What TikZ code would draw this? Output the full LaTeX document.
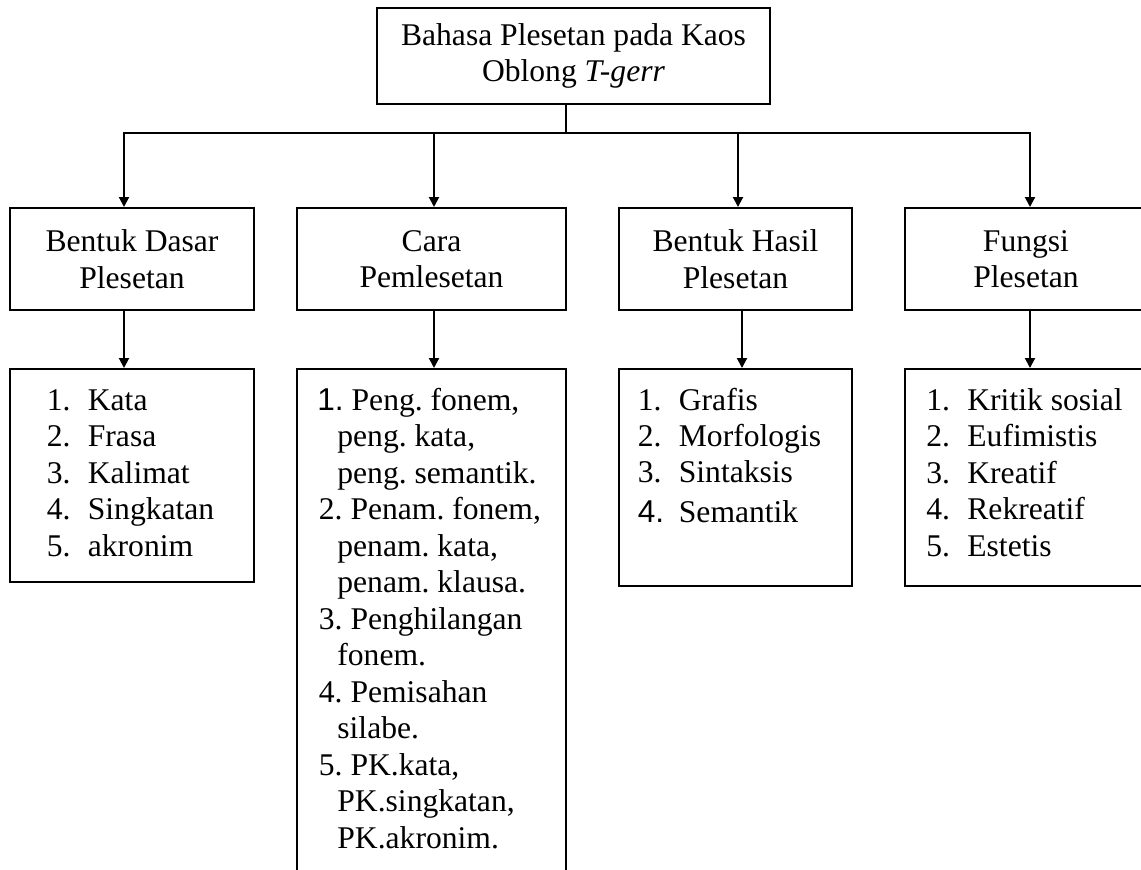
\documentclass[tikz,border=0pt]{standalone}
\usepackage{fontspec}
\setmainfont{Liberation Serif}
\newfontfamily\numsans{Liberation Sans}
\usepackage{tikz}
\usetikzlibrary{positioning, calc, arrows.meta}
\frenchspacing

\begin{document}
\begin{tikzpicture}[x=0.5pt, y=-0.5pt,
    font=\fontsize{15.8pt}{18.25pt}\selectfont,
    box/.style={draw, line width=1pt, inner sep=0pt, align=center},
    item/.style={anchor=base west, inner sep=0pt},
    link/.style={line width=1pt},
    arr/.style={line width=1pt, -{Triangle[length=5pt, width=5pt]}}]
  \useasboundingbox (0,0) rectangle (1141,869);
  \clip (0,0) rectangle (1141,869);

  \node[box, minimum width=196.5pt, minimum height=48pt] (top) at (573.5,56)
    {Bahasa Plesetan pada Kaos\\Oblong \textit{T-gerr}};

  \node[box, minimum width=122pt, minimum height=51pt] (b1) at (132,259) {Bentuk Dasar\\Plesetan};
  \node[box, minimum width=134.5pt, minimum height=51pt] (b2) at (431.5,259) {Cara\\Pemlesetan};
  \node[box, minimum width=116.5pt, minimum height=51pt] (b3) at (735.5,259) {Bentuk Hasil\\Plesetan};
  \node[box, minimum width=121pt, minimum height=51pt] (b4) at (1026,259) {Fungsi\\Plesetan};

  \node[box, minimum width=122pt, minimum height=106.5pt] (l1) at (132,475.5) {};
  \node[box, minimum width=134.5pt, minimum height=255.5pt] (l2) at (431.5,624.5) {};
  \node[box, minimum width=116.5pt, minimum height=108.5pt] (l3) at (735.5,477.5) {};
  \node[box, minimum width=121pt, minimum height=108.5pt] (l4) at (1026,477.5) {};

  \coordinate (hub) at (566,133);
  \draw[link] (top.south -| hub) -- (hub);
  \draw[arr] (hub) -| ([xshift=-4pt]b1.north);
  \draw[arr] (hub) -| ([xshift=1.25pt]b2.north);
  \draw[arr] (hub) -| ([xshift=1.25pt]b3.north);
  \draw[arr] (hub) -| ([xshift=2pt]b4.north);

  \draw[arr] ([xshift=-4pt]b1.south) -- ([xshift=-4pt]l1.north);
  \draw[arr] ([xshift=1.25pt]b2.south) -- ([xshift=1.25pt]l2.north);
  \draw[arr] ([xshift=3.25pt]b3.south) -- ([xshift=3.25pt]l3.north);
  \draw[arr] ([xshift=2pt]b4.south) -- ([xshift=2pt]l4.north);

  % isi daftar
  \foreach \t [count=\i] in {Kata, Frasa, Kalimat, Singkatan, akronim}
    \node[item] (k\i) at (46.5,{410+36.5*(\i-1)}) {\makebox[20.5pt][l]{\i.}\t};

  \foreach \x/\t [count=\i] in {317/{{\numsans 1.} Peng. fonem,}, 337/{peng. kata,},
      337/{peng. semantik.}, 318.5/{2. Penam. fonem,}, 337/{penam. kata,},
      337/{penam. klausa.}, 318.5/{3. Penghilangan}, 337/{fonem.},
      318.5/{4. Pemisahan}, 337/{silabe.}, 318.5/{5. PK.kata,},
      337/{PK.singkatan,}, 337/{PK.akronim.}}
    \node[item] (c\i) at (\x,{410+36.5*(\i-1)}) {\t};

  \foreach \y/\n/\t [count=\i] in {410/1./Grafis, 446/2./Morfologis,
      482/3./Sintaksis, 522/{\numsans 4.}/Semantik}
    \node[item] (h\i) at (637.5,\y) {\makebox[20.5pt][l]{\n}\t};

  \foreach \t [count=\i] in {Kritik sosial, Eufimistis, Kreatif, Rekreatif, Estetis}
    \node[item] (f\i) at (926,{410+36.5*(\i-1)}) {\makebox[20.5pt][l]{\i.}\t};
\end{tikzpicture}
\end{document}
